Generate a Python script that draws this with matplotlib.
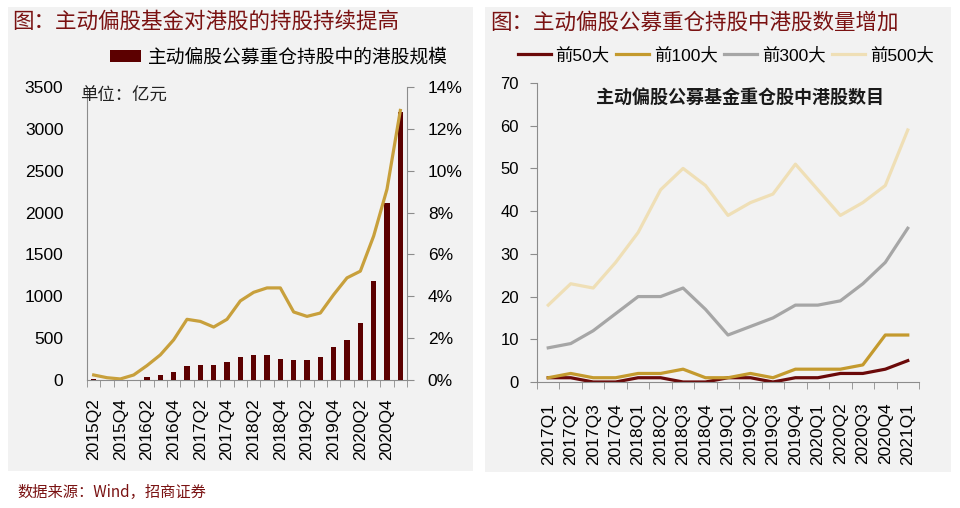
import matplotlib
matplotlib.use("Agg")
import matplotlib.pyplot as plt
from matplotlib.patches import Rectangle, Patch
from matplotlib.lines import Line2D
import numpy as np

plt.rcParams['font.family'] = ['Liberation Sans', 'Noto Sans CJK SC', 'DejaVu Sans']
CJK = ['Noto Sans CJK SC', 'DejaVu Sans']

# ---------------- data ----------------
left_quarters = ['2015Q2', '2015Q3', '2015Q4', '2016Q1', '2016Q2', '2016Q3', '2016Q4',
                 '2017Q1', '2017Q2', '2017Q3', '2017Q4', '2018Q1', '2018Q2', '2018Q3',
                 '2018Q4', '2019Q1', '2019Q2', '2019Q3', '2019Q4', '2020Q1', '2020Q2',
                 '2020Q3', '2020Q4', '2021Q1']
hk_holding_value = [10, 3, 2, 5, 32, 60, 100, 168, 184, 176, 216, 280, 300, 300,
                    252, 244, 244, 272, 396, 476, 680, 1188, 2120, 3200]
hk_holding_ratio = [0.24, 0.11, 0.05, 0.24, 0.69, 1.20, 1.92, 2.90, 2.80, 2.53, 2.90,
                    3.78, 4.19, 4.40, 4.40, 3.25, 3.04, 3.20, 4.08, 4.88, 5.20, 6.88,
                    9.12, 12.88]
left_yticks = [0, 500, 1000, 1500, 2000, 2500, 3000, 3500]
right_yticks_pct = [0, 2, 4, 6, 8, 10, 12, 14]

right_quarters = ['2017Q1', '2017Q2', '2017Q3', '2017Q4', '2018Q1', '2018Q2', '2018Q3',
                  '2018Q4', '2019Q1', '2019Q2', '2019Q3', '2019Q4', '2020Q1', '2020Q2',
                  '2020Q3', '2020Q4', '2021Q1']
top50 = [1, 1, 0, 0, 1, 1, 0, 0, 1, 1, 0, 1, 1, 2, 2, 3, 5]
top100 = [1, 2, 1, 1, 2, 2, 3, 1, 1, 2, 1, 3, 3, 3, 4, 11, 11]
top300 = [8, 9, 12, 16, 20, 20, 22, 17, 11, 13, 15, 18, 18, 19, 23, 28, 36]
top500 = [18, 23, 22, 28, 35, 45, 50, 46, 39, 42, 44, 51, 45, 39, 42, 46, 59]
series_names = ['前50大', '前100大', '前300大', '前500大']
count_yticks = [0, 10, 20, 30, 40, 50, 60, 70]

# ---------------- figure ----------------
W, H = 960, 508
fig = plt.figure(figsize=(W / 100, H / 100), dpi=100)
fig.patch.set_facecolor('white')

def px_rect(x0, y0, x1, y1):
    return [x0 / W, 1 - y1 / H, (x1 - x0) / W, (y1 - y0) / H]

panel_bg = '#f2f2f2'
for (x0, y0, x1, y1) in [(8, 7, 473, 471), (485, 7, 951, 472)]:
    r = px_rect(x0, y0, x1, y1)
    fig.patches.append(Rectangle((r[0], r[1]), r[2], r[3], transform=fig.transFigure,
                                 facecolor=panel_bg, edgecolor='none', zorder=-10))

title_color = '#7a1212'
spine_color = '#8c8c8c'

# ---------------- left chart ----------------
axL = fig.add_axes(px_rect(87, 87, 407, 380))
axL.set_facecolor('none')
xL = np.arange(len(left_quarters))
axL.bar(xL, hk_holding_value, width=0.38, color='#5c0000', zorder=3)
axL.set_xlim(-0.5, len(left_quarters) - 0.5)
axL.set_ylim(0, 3500)
axL.set_yticks(left_yticks)
axL.set_yticklabels([str(v) for v in left_yticks], fontsize=12.5)
axL.tick_params(axis='y', length=0, pad=17)
axL.set_xticks(xL[::2])
axL.set_xticklabels(left_quarters[::2], rotation=90, fontsize=12.5)
axL.set_xticks(np.arange(-0.5, len(left_quarters)), minor=True)
axL.tick_params(axis='x', which='major', length=0, pad=13)
axL.tick_params(axis='x', which='minor', length=5, color=spine_color)
for s in ['top']:
    axL.spines[s].set_visible(False)
axL.spines['left'].set_color(spine_color)
axL.spines['bottom'].set_color(spine_color)
axL.spines['right'].set_visible(False)

axL2 = axL.twinx()
axL2.plot(xL, np.array(hk_holding_ratio) / 100, color='#c8a03c', lw=2.3, zorder=4)
axL2.set_ylim(0, 0.14)
axL2.set_yticks(np.array(right_yticks_pct) / 100)
axL2.set_yticklabels([f'{v}%' for v in right_yticks_pct], fontsize=12.5)
axL2.tick_params(axis='y', length=5, color=spine_color, pad=10)
axL2.spines['top'].set_visible(False)
axL2.spines['left'].set_visible(False)
axL2.spines['bottom'].set_visible(False)
axL2.spines['right'].set_color(spine_color)

fig.text(12 / W, 1 - 22 / H, '图：主动偏股基金对港股的持股持续提高', fontsize=15.5,
         color=title_color, family=CJK, va='center', ha='left')
fig.text(80 / W, 1 - 96 / H, '单位：亿元', fontsize=12.5, color='#222222',
         family=CJK, va='center', ha='left')
legL = fig.legend(handles=[Patch(facecolor='#5c0000', edgecolor='none',
                                 label='主动偏股公募重仓持股中的港股规模')],
                  loc='center left', bbox_to_anchor=(110 / W, 1 - 57 / H),
                  frameon=False, borderpad=0, borderaxespad=0, handlelength=1.65,
                  handleheight=0.55, handletextpad=0.4, prop={'family': CJK, 'size': 13.5})

# ---------------- right chart ----------------
axR = fig.add_axes(px_rect(537, 83, 919, 382))
axR.set_facecolor('none')
xR = np.arange(len(right_quarters))
colors = ['#6b0a0a', '#c49a2e', '#a6a6a6', '#efdfb6']
handles = []
for vals, name, c in zip([top50, top100, top300, top500], series_names, colors):
    h, = axR.plot(xR, vals, color=c, lw=2.3, label=name)
    handles.append(h)
axR.set_xlim(-0.5, len(right_quarters) - 0.5)
axR.set_ylim(0, 70)
axR.set_yticks(count_yticks)
axR.set_yticklabels([str(v) for v in count_yticks], fontsize=12)
axR.tick_params(axis='y', length=5, color=spine_color, pad=8)
axR.set_xticks(xR)
axR.set_xticklabels(right_quarters, rotation=90, fontsize=12.5)
axR.set_xticks(np.arange(-0.5, len(right_quarters)), minor=True)
axR.tick_params(axis='x', which='major', length=0, pad=15)
axR.tick_params(axis='x', which='minor', length=5, color=spine_color)
axR.spines['top'].set_visible(False)
axR.spines['right'].set_visible(False)
axR.spines['left'].set_color(spine_color)
axR.spines['bottom'].set_color(spine_color)
axR.text(0.531, 0.953, '主动偏股公募基金重仓股中港股数目', transform=axR.transAxes,
         fontsize=13, fontweight='bold', family=CJK, ha='center', va='center',
         color='#1a1a1a')

fig.text(490 / W, 1 - 23 / H, '图：主动偏股公募重仓持股中港股数量增加', fontsize=15.5,
         color=title_color, family=CJK, va='center', ha='left')
fig.legend(handles=handles, loc='center left', bbox_to_anchor=(518 / W, 1 - 55 / H),
           ncol=4, frameon=False, borderpad=0, borderaxespad=0, handlelength=1.9,
           handletextpad=0.25, columnspacing=0.4, prop={'size': 12.5})

# ---------------- footer ----------------
fig.text(17 / W, 1 - 492 / H, '数据来源：Wind，招商证券', fontsize=11,
         color='#7a1212', family=CJK, va='center', ha='left')

fig.savefig('out.png', dpi=100, facecolor='white')
